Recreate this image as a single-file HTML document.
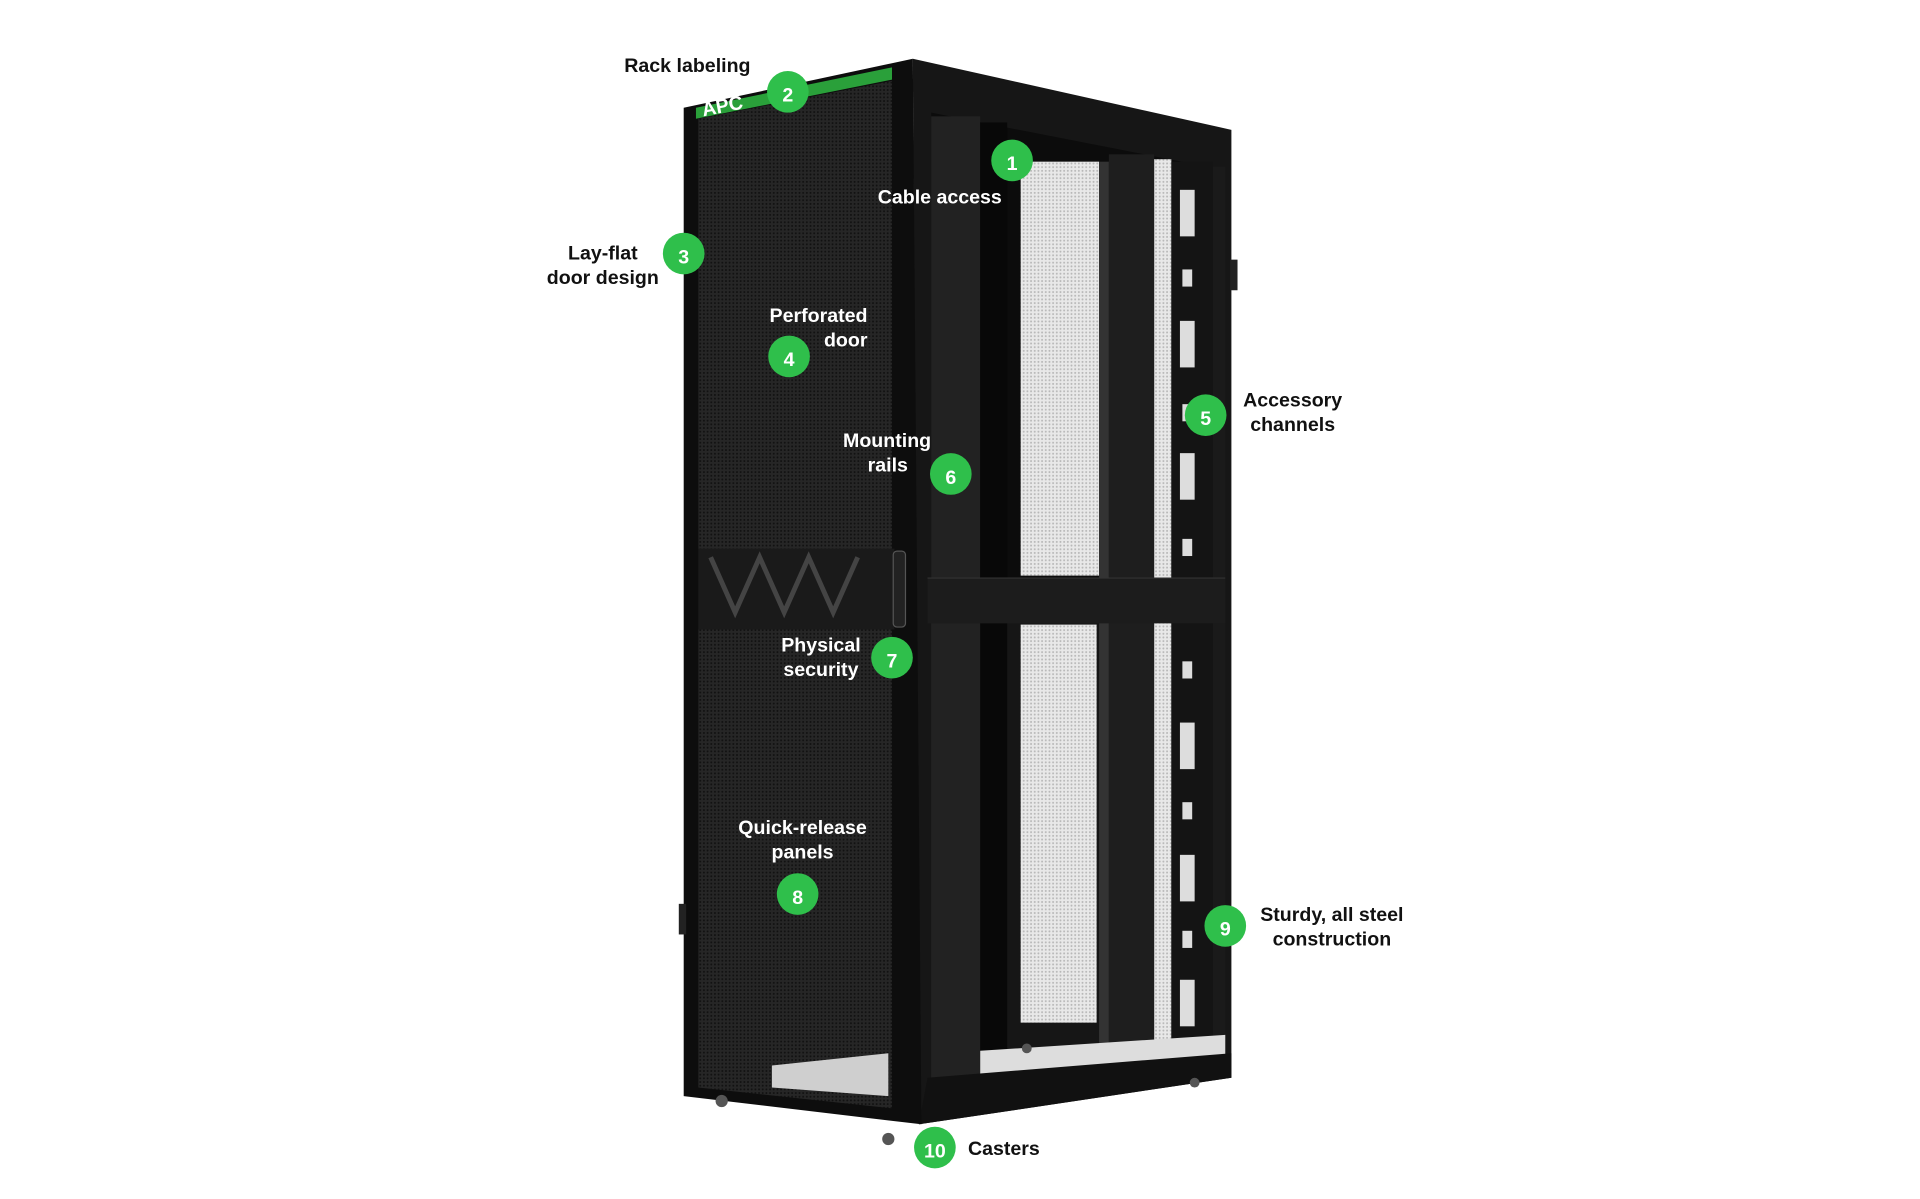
<!DOCTYPE html>
<html><head><meta charset="utf-8"><style>
html,body{margin:0;padding:0;background:#fff;}
svg{display:block;}
text{font-family:"Liberation Sans",Arial,sans-serif;font-weight:bold;font-size:16px;}
</style></head><body>
<svg width="1920" height="1199" viewBox="0 0 1567 979" preserveAspectRatio="none" xmlns="http://www.w3.org/2000/svg">
<defs>
<pattern id="perf" width="3" height="3" patternUnits="userSpaceOnUse"><rect width="3" height="3" fill="#e8e8e8"/><circle cx="1.5" cy="1.5" r="0.8" fill="#b8b8b8"/></pattern>
<pattern id="dperf" width="3" height="3" patternUnits="userSpaceOnUse"><rect width="3" height="3" fill="#262626"/><circle cx="1.5" cy="1.5" r="0.8" fill="#111"/></pattern>
</defs>
<polygon points="745,48 1005,106 1005,880 750,918" fill="#161616"/>
<polygon points="760,92 995,138 995,472 760,472" fill="#0c0c0c"/>
<rect x="760" y="95" width="40" height="785" fill="#222"/>
<rect x="800" y="100" width="22" height="760" fill="#080808"/>
<rect x="833" y="132" width="64" height="338" fill="url(#perf)"/>
<rect x="833" y="510" width="62" height="325" fill="url(#perf)"/>
<rect x="897" y="132" width="8" height="720" fill="#333"/>
<rect x="905" y="126" width="37" height="728" fill="#1e1e1e"/>
<rect x="942" y="130" width="14" height="720" fill="url(#perf)"/>
<rect x="956" y="132" width="34" height="718" fill="#141414"/>
<g fill="#ddd">
<rect x="963" y="155" width="12" height="38"/><rect x="963" y="262" width="12" height="38"/><rect x="963" y="370" width="12" height="38"/>
<rect x="963" y="590" width="12" height="38"/><rect x="963" y="698" width="12" height="38"/><rect x="963" y="800" width="12" height="38"/>
<rect x="965" y="220" width="8" height="14"/><rect x="965" y="330" width="8" height="14"/><rect x="965" y="440" width="8" height="14"/>
<rect x="965" y="540" width="8" height="14"/><rect x="965" y="655" width="8" height="14"/><rect x="965" y="760" width="8" height="14"/>
</g>
<rect x="990" y="136" width="10" height="744" fill="#1a1a1a"/>
<rect x="757" y="472" width="243" height="37" fill="#1c1c1c"/>
<line x1="757" y1="472" x2="1000" y2="472" stroke="#333"/>
<polygon points="800,858 1000,845 1000,870 800,880" fill="#ddd"/>
<polygon points="757,880 1005,860 1005,880 750,918" fill="#111"/>
<polygon points="558,88 745,48 752,918 558,895" fill="#0d0d0d"/>
<polygon points="570,97 728,66 728,905 570,888" fill="url(#dperf)"/>
<polygon points="630,870 725,860 725,895 630,888" fill="#cfcfcf"/>
<polygon points="568,88 728,55 728,65 568,97" fill="#2aa03a"/>
<text x="574" y="95" font-size="5" fill="#fff" transform="rotate(-11 574 95)">APC</text>
<rect x="570" y="448" width="160" height="66" fill="#1a1a1a"/>
<polyline points="580,455 600,500 620,455 640,500 660,455 680,500 700,455" fill="none" stroke="#444" stroke-width="4"/>
<rect x="729" y="450" width="10" height="62" rx="3" fill="#222" stroke="#555"/>
<rect x="554" y="738" width="6" height="25" fill="#222"/>
<rect x="1004" y="212" width="6" height="25" fill="#222"/>
<g fill="#555"><circle cx="589" cy="899" r="5"/><circle cx="725" cy="930" r="5"/><circle cx="838" cy="856" r="4"/><circle cx="975" cy="884" r="4"/></g>
<g fill="#2fbf4b">
<circle cx="826" cy="131" r="17"/><circle cx="643" cy="75" r="17"/><circle cx="558" cy="207" r="17"/><circle cx="644" cy="291" r="17"/><circle cx="984" cy="339" r="17"/>
<circle cx="776" cy="387" r="17"/><circle cx="728" cy="537" r="17"/><circle cx="651" cy="730" r="17"/><circle cx="1000" cy="756" r="17"/><circle cx="763" cy="937" r="17"/>
</g>
<g fill="#fff" font-size="22" text-anchor="middle">
<text x="826" y="139">1</text><text x="643" y="83">2</text><text x="558" y="215">3</text><text x="644" y="299">4</text><text x="984" y="347">5</text>
<text x="776" y="395">6</text><text x="728" y="545">7</text><text x="651" y="738">8</text><text x="1000" y="764">9</text><text x="763" y="945" font-size="20">10</text>
</g>
<g fill="#111">
<text x="561" y="59" text-anchor="middle">Rack labeling</text>
<text x="492" y="212" text-anchor="middle">Lay-flat</text>
<text x="492" y="232" text-anchor="middle">door design</text>
<text x="1055" y="332" text-anchor="middle">Accessory</text>
<text x="1055" y="352" text-anchor="middle">channels</text>
<text x="1087" y="752" text-anchor="middle">Sturdy, all steel</text>
<text x="1087" y="772" text-anchor="middle">construction</text>
<text x="790" y="943">Casters</text>
</g>
<g fill="#fff">
<text x="767" y="166" text-anchor="middle">Cable access</text>
<text x="708" y="263" text-anchor="end">Perforated</text>
<text x="708" y="283" text-anchor="end">door</text>
<text x="724" y="365" text-anchor="middle">Mounting</text>
<text x="741" y="385" text-anchor="end">rails</text>
<text x="670" y="532" text-anchor="middle">Physical</text>
<text x="670" y="552" text-anchor="middle">security</text>
<text x="655" y="681" text-anchor="middle">Quick-release</text>
<text x="655" y="701" text-anchor="middle">panels</text>
</g>
</svg>
</body></html>
